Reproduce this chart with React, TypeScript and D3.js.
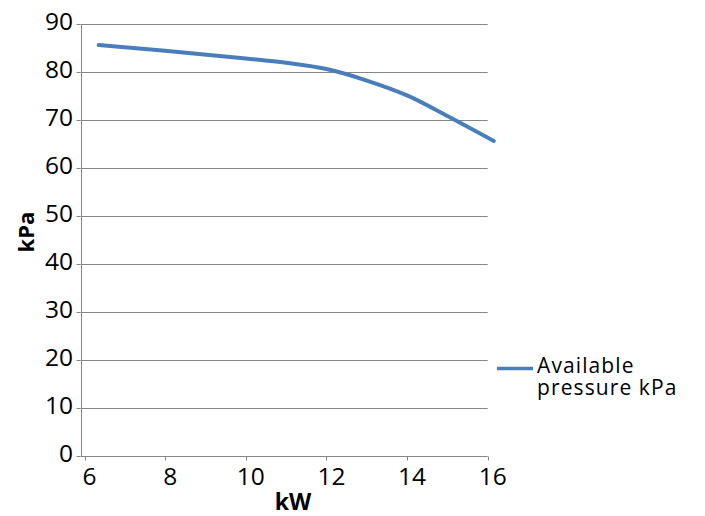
import React from "react";
import * as d3 from "d3";

const kwValues = [6.35, 8, 10, 11, 12, 13, 14, 15, 16.15];
const kpaValues = [85.6, 84.4, 82.8, 81.9, 80.6, 78.2, 75.1, 70.8, 65.6];
const xTicks = [6, 8, 10, 12, 14, 16];
const yTicks = [0, 10, 20, 30, 40, 50, 60, 70, 80, 90];
const seriesName = ["Available", "pressure kPa"];
const xTitle = "kW";
const yTitle = "kPa";

const W = 705;
const H = 516;
const FONT = "'Open Sans', 'Liberation Sans', sans-serif";

export default function App() {
  const x = d3.scaleLinear().domain([5.9, 16]).range([80.5, 487.7]);
  const y = d3.scaleLinear().domain([0, 90]).range([455.5, 24]);
  const data = kwValues.map((k, i) => [k, kpaValues[i]] as [number, number]);
  const line = d3
    .line<[number, number]>()
    .x((d) => x(d[0]))
    .y((d) => y(d[1]))
    .curve(d3.curveCatmullRom.alpha(0.5));
  const x0 = x(5.9);
  const x1 = x(16);
  const yBase = Math.round(y(0)) + 0.5;
  return (
    <svg
      width={W}
      height={H}
      style={{ position: "absolute", left: 0, top: 0, background: "#fff" }}
    >
      <rect x={0} y={0} width={W} height={H} fill="#fff" />
      {yTicks.slice(1).map((t) => (
        <line
          key={"g" + t}
          x1={x0}
          x2={x1}
          y1={Math.round(y(t)) + 0.5}
          y2={Math.round(y(t)) + 0.5}
          stroke="#868686"
          strokeWidth={1}
        />
      ))}
      {yTicks.map((t) => (
        <line
          key={"yt" + t}
          x1={x0 - 4}
          x2={x0}
          y1={Math.round(y(t)) + 0.5}
          y2={Math.round(y(t)) + 0.5}
          stroke="#868686"
          strokeWidth={1}
        />
      ))}
      <line x1={Math.round(x0) + 0.5} x2={Math.round(x0) + 0.5} y1={y(90)} y2={yBase} stroke="#868686" strokeWidth={1} />
      <line x1={x0} x2={x1} y1={yBase} y2={yBase} stroke="#868686" strokeWidth={1} />
      {xTicks.map((t) => (
        <line
          key={"xt" + t}
          x1={Math.round(x(t)) + 0.5}
          x2={Math.round(x(t)) + 0.5}
          y1={yBase}
          y2={yBase + 4}
          stroke="#868686"
          strokeWidth={1}
        />
      ))}
      {yTicks.map((t) => (
        <text
          key={"yl" + t}
          x={73}
          y={y(t) + 6}
          textAnchor="end"
          fontFamily={FONT}
          fontSize={24.5}
          fill="#000"
        >
          {t}
        </text>
      ))}
      {xTicks.map((t) => (
        <text
          key={"xl" + t}
          x={x(t) + 5}
          y={485}
          textAnchor="middle"
          fontFamily={FONT}
          fontSize={24.5}
          fill="#000"
        >
          {t}
        </text>
      ))}
      <text x={293} y={510} textAnchor="middle" fontFamily={FONT} fontSize={23} fontWeight="bold" fill="#000">
        {xTitle}
      </text>
      <text
        transform={`translate(34,232) rotate(-90)`}
        textAnchor="middle"
        fontFamily={FONT}
        fontSize={22}
        fontWeight="bold"
        fill="#000"
      >
        {yTitle}
      </text>
      <path d={line(data) || ""} fill="none" stroke="#4a7ebb" strokeWidth={4} strokeLinejoin="round" strokeLinecap="round" />
      <line x1={497} x2={533} y1={368.5} y2={368.5} stroke="#4a7ebb" strokeWidth={3.5} />
      {seriesName.map((s, i) => (
        <text key={s} x={537} y={373 + i * 22} fontFamily={FONT} fontSize={21} letterSpacing={1.1} fill="#000">
          {s}
        </text>
      ))}
    </svg>
  );
}
